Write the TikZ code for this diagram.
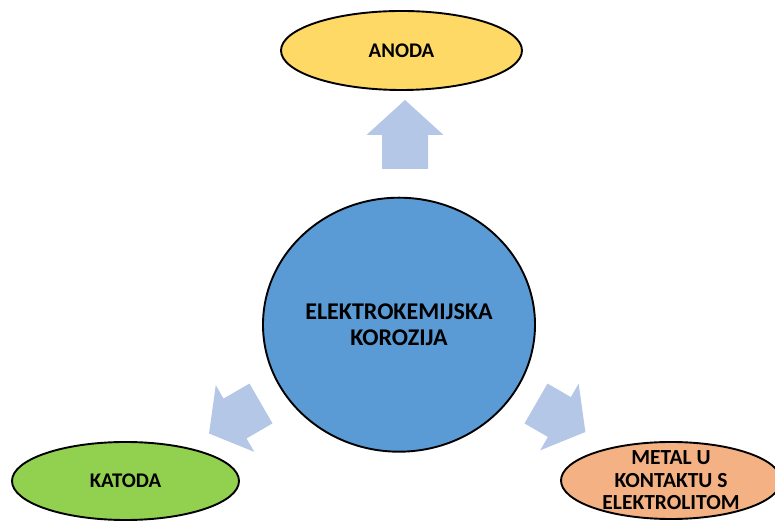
\documentclass[tikz,border=0pt]{standalone}
\usepackage{fontspec}
\setmainfont{Carlito}
\usetikzlibrary{shapes.geometric}
\definecolor{anodafill}{HTML}{FFD966}
\definecolor{katodafill}{HTML}{92D050}
\definecolor{metalfill}{HTML}{F4B183}
\definecolor{corefill}{HTML}{5B9BD5}
\definecolor{arrowfill}{HTML}{B4C7E7}
\newcommand\blockarrow[4]{%
  \begin{scope}[shift={#1},rotate=#2]
    \fill[arrowfill] (0,-23) -- (#3-#4,-23) -- (#3-#4,-38.5) -- (#3,0)
      -- (#3-#4,38.5) -- (#3-#4,23) -- (0,23) -- cycle;
  \end{scope}}
\tikzset{
  blob/.style={ellipse, draw=black, line width=1.9pt, inner sep=0pt},
  lbl/.style={font=\fontsize{20.8}{24}\selectfont\bfseries, align=center, inner sep=0pt},
}
\begin{document}
\begin{tikzpicture}[x=1pt,y=1pt]
  \useasboundingbox (0,0) rectangle (775,521);
  \clip (0,0) rectangle (775,521);
  % block arrows
  \blockarrow{(405,352)}{90}{69}{35}
  \blockarrow{(261,117.5)}{210}{60}{30}
  \blockarrow{(536,117.5)}{330}{57}{30}
  % nodes
  \node[blob, fill=corefill, minimum width=272pt, minimum height=254pt] (core) at (399,196.3) {};
  \node[lbl, font=\fontsize{24}{26.5}\selectfont\bfseries] at (core) {ELEKTROKEMIJSKA\\KOROZIJA};
  \node[blob, fill=anodafill, minimum width=241pt, minimum height=79pt] (anoda) at (401.5,470.5) {};
  \node[lbl] at (anoda) {ANODA};
  \node[blob, fill=katodafill, minimum width=227pt, minimum height=78pt] (katoda) at (125.5,40) {};
  \node[lbl] at (katoda) {KATODA};
  \node[blob, fill=metalfill, minimum width=220pt, minimum height=77pt] (metal) at (671,40.5) {};
  \node[lbl, font=\fontsize{21.5}{22.6}\selectfont\bfseries] at (metal) {METAL U\\KONTAKTU S\\ELEKTROLITOM};
\end{tikzpicture}
\end{document}
